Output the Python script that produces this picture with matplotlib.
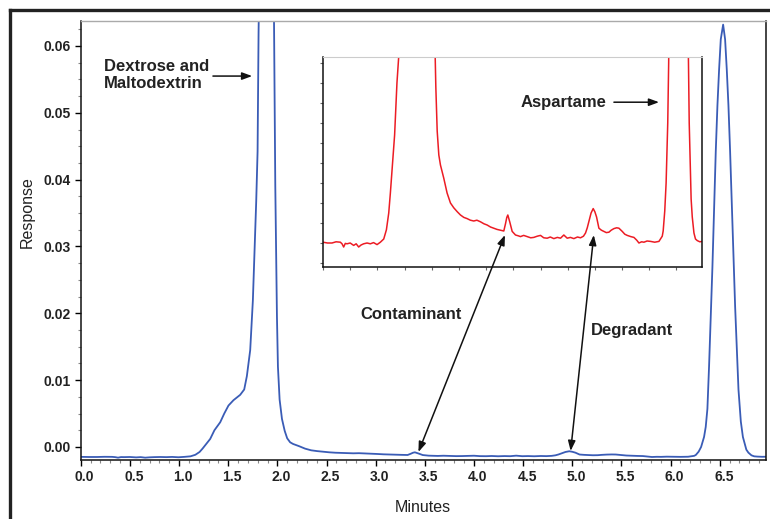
import matplotlib
matplotlib.use("Agg")
import matplotlib.pyplot as plt
from matplotlib.lines import Line2D
from matplotlib.patches import ConnectionPatch
from matplotlib.ticker import MultipleLocator, FormatStrFormatter
import matplotlib.transforms as mtransforms

plt.rcParams['font.family'] = ['Liberation Sans', 'DejaVu Sans']

# ---- data ----
minutes = [
    0.000, 0.083, 0.166, 0.240, 0.319, 0.350, 0.380, 0.410, 0.442, 0.500, 0.564, 0.610,
    0.656, 0.700, 0.748, 0.810, 0.871, 0.930, 0.994, 1.055, 1.117, 1.166, 1.209, 1.239,
    1.288, 1.317, 1.360, 1.419, 1.460, 1.503, 1.554, 1.622, 1.663, 1.690, 1.724, 1.751,
    1.768, 1.785, 1.799, 1.809, 1.830, 1.880, 1.940, 1.965, 1.979, 1.996, 2.006, 2.023,
    2.047, 2.075, 2.100, 2.130, 2.160, 2.221, 2.282, 2.344, 2.405, 2.470, 2.528, 2.590,
    2.650, 2.710, 2.773, 2.830, 2.896, 2.960, 3.018, 3.080, 3.141, 3.200, 3.264, 3.325,
    3.356, 3.380, 3.399, 3.420, 3.436, 3.479, 3.540, 3.590, 3.632, 3.690, 3.755, 3.820,
    3.877, 3.940, 4.000, 4.060, 4.123, 4.180, 4.245, 4.310, 4.368, 4.429, 4.491, 4.550,
    4.613, 4.680, 4.736, 4.790, 4.828, 4.860, 4.890, 4.930, 4.969, 5.000, 5.031, 5.074,
    5.120, 5.166, 5.210, 5.258, 5.300, 5.350, 5.400, 5.442, 5.503, 5.550, 5.595, 5.660,
    5.718, 5.770, 5.810, 5.860, 5.902, 5.960, 6.025, 6.100, 6.178, 6.239, 6.256, 6.285,
    6.310, 6.340, 6.357, 6.374, 6.391, 6.408, 6.425, 6.442, 6.459, 6.476, 6.493, 6.510,
    6.534, 6.554, 6.571, 6.588, 6.605, 6.622, 6.639, 6.656, 6.673, 6.690, 6.714, 6.735,
    6.748, 6.770, 6.791, 6.822, 6.850, 6.883, 6.930, 6.975,
]
response = [
    -0.00148, -0.00150, -0.00150, -0.00147, -0.00148, -0.00152, -0.00160, -0.00151, -0.00152, -0.00150, -0.00156, -0.00152,
    -0.00160, -0.00155, -0.00152, -0.00150, -0.00152, -0.00149, -0.00154, -0.00148, -0.00140, -0.00117, -0.00075, -0.00025,
    0.00067, 0.00120, 0.00250, 0.00370, 0.00500, 0.00620, 0.00700, 0.00780, 0.00860, 0.01060, 0.01450, 0.02190,
    0.02930, 0.03670, 0.04420, 0.06200, 0.08500, 0.09500, 0.08500, 0.06600, 0.03920, 0.01950, 0.01200, 0.00710,
    0.00420, 0.00240, 0.00130, 0.00070, 0.00045, 0.00012, -0.00025, -0.00050, -0.00062, -0.00072, -0.00080, -0.00086,
    -0.00089, -0.00093, -0.00095, -0.00093, -0.00097, -0.00102, -0.00105, -0.00110, -0.00113, -0.00116, -0.00118, -0.00120,
    -0.00102, -0.00086, -0.00080, -0.00090, -0.00098, -0.00121, -0.00130, -0.00132, -0.00134, -0.00131, -0.00134, -0.00137,
    -0.00136, -0.00133, -0.00131, -0.00137, -0.00138, -0.00135, -0.00139, -0.00136, -0.00138, -0.00130, -0.00138, -0.00136,
    -0.00139, -0.00135, -0.00137, -0.00133, -0.00125, -0.00112, -0.00096, -0.00075, -0.00064, -0.00072, -0.00085, -0.00113,
    -0.00118, -0.00121, -0.00124, -0.00123, -0.00118, -0.00114, -0.00112, -0.00113, -0.00121, -0.00128, -0.00131, -0.00134,
    -0.00136, -0.00143, -0.00150, -0.00147, -0.00148, -0.00145, -0.00146, -0.00148, -0.00146, -0.00133, -0.00120, -0.00070,
    0.00000, 0.00150, 0.00300, 0.00570, 0.01210, 0.01950, 0.02690, 0.03530, 0.04420, 0.05110, 0.05650, 0.06100,
    0.06320, 0.06100, 0.05650, 0.05110, 0.04420, 0.03630, 0.02840, 0.02100, 0.01460, 0.00860, 0.00380, 0.00150,
    0.00080, -0.00040, -0.00085, -0.00125, -0.00140, -0.00144, -0.00147, -0.00146,
]

x_ticks = [0.0, 0.5, 1.0, 1.5, 2.0, 2.5, 3.0, 3.5, 4.0, 4.5, 5.0, 5.5, 6.0, 6.5]
y_ticks = [0.00, 0.01, 0.02, 0.03, 0.04, 0.05, 0.06]

BLUE = '#3a5cb6'
RED = '#ec1c24'
W, H = 770, 519

fig = plt.figure(figsize=(W / 100, H / 100), dpi=100)

# main axes
ax = fig.add_axes([80.7 / W, 1 - 460 / H, (766 - 80.7) / W, (460 - 21) / H])
ax.plot(minutes, response, color=BLUE, lw=1.3)
ax.set_xlim(0, 6.97)
ax.set_ylim(-0.00195, 0.06374)
ax.set_xticks(x_ticks)
ax.set_yticks(y_ticks)
ax.xaxis.set_major_formatter(FormatStrFormatter('%.1f'))
ax.yaxis.set_major_formatter(FormatStrFormatter('%.2f'))
ax.xaxis.set_minor_locator(MultipleLocator(0.1))
ax.yaxis.set_minor_locator(MultipleLocator(0.0025))
ax.tick_params(which='major', direction='out', length=4, width=1, labelsize=10, pad=3.5)
ax.tick_params(which='minor', direction='out', length=2, width=0.8, color='#888888')
for lab in ax.get_xticklabels() + ax.get_yticklabels():
    lab.set_fontweight('bold')
    lab.set_color('#222222')
offset = mtransforms.ScaledTranslation(4 / 100, 0, fig.dpi_scale_trans)
for lab in ax.get_xticklabels():
    lab.set_transform(lab.get_transform() + offset)
for s in ['left', 'bottom', 'right']:
    ax.spines[s].set_color('#111111')
    ax.spines[s].set_linewidth(1.1)
ax.spines['top'].set_color('#aaaaaa')
ax.spines['top'].set_linewidth(1.0)

fig.text(27.5 / W, 1 - 212 / H, 'Response', rotation=90, ha='center', va='center',
         fontsize=11.5, color='#222222')
fig.text(423 / W, 1 - 508 / H, 'Minutes', ha='center', va='center',
         fontsize=11.5, color='#222222')

# inset axes (zoom of the baseline)
axi = fig.add_axes([323 / W, 1 - 267 / H, (702 - 323) / W, (267 - 57) / H])
axi.plot(minutes, response, color=RED, lw=1.1)
axi.set_xlim(0, 6.97)
axi.set_ylim(-0.0021, 0.00315)
axi.xaxis.set_major_locator(MultipleLocator(0.5))
axi.yaxis.set_major_locator(MultipleLocator(0.0005))
axi.tick_params(direction='out', length=2.5, width=0.8, labelbottom=False, labelleft=False,
                color='#666666')
for s in ['left', 'bottom', 'right']:
    axi.spines[s].set_color('#111111')
    axi.spines[s].set_linewidth(1.1)
axi.spines['top'].set_color('#cccccc')

# annotations
bold = dict(fontsize=12, fontweight='bold', color='#222222')
arrow_single = dict(arrowstyle='-|>,head_length=0.6,head_width=0.22', color='#111111', lw=1.1,
                    shrinkA=0, shrinkB=0)
ax.text(0.237, 0.0557, 'Dextrose and\nMaltodextrin', ha='left', va='center', linespacing=1.2, **bold)
ax.annotate('', xy=(1.744, 0.0555), xytext=(1.345, 0.0555), arrowprops=arrow_single)
axi.text(5.22, 0.00202, 'Aspartame', ha='right', va='center', **bold)
axi.annotate('', xy=(6.18, 0.00202), xytext=(5.35, 0.00202), arrowprops=arrow_single)
ax.text(3.364, 0.01975, 'Contaminant', ha='center', va='center', **bold)
ax.text(5.604, 0.0175, 'Degradant', ha='center', va='center', **bold)

for (xi, yi, xm, ym) in [(3.346, -0.00130, 3.435, -0.00075), (4.98, -0.00130, 4.983, -0.00060)]:
    cp = ConnectionPatch(xyA=(xi, yi), coordsA=axi.transData, xyB=(xm, ym), coordsB=ax.transData,
                         arrowstyle='<|-|>,head_length=0.6,head_width=0.22', color='#111111',
                         lw=1.1, mutation_scale=10, shrinkA=0, shrinkB=0)
    fig.add_artist(cp)

# outer frame (top and left heavy rules)
fig.add_artist(Line2D([10 / W, 10 / W], [0, 1 - 10 / H], transform=fig.transFigure,
                      color='#222222', lw=2.4, solid_capstyle='projecting'))
fig.add_artist(Line2D([10 / W, 1], [1 - 10 / H, 1 - 10 / H], transform=fig.transFigure,
                      color='#222222', lw=2.4, solid_capstyle='projecting'))

fig.savefig('out.png', dpi=100)
